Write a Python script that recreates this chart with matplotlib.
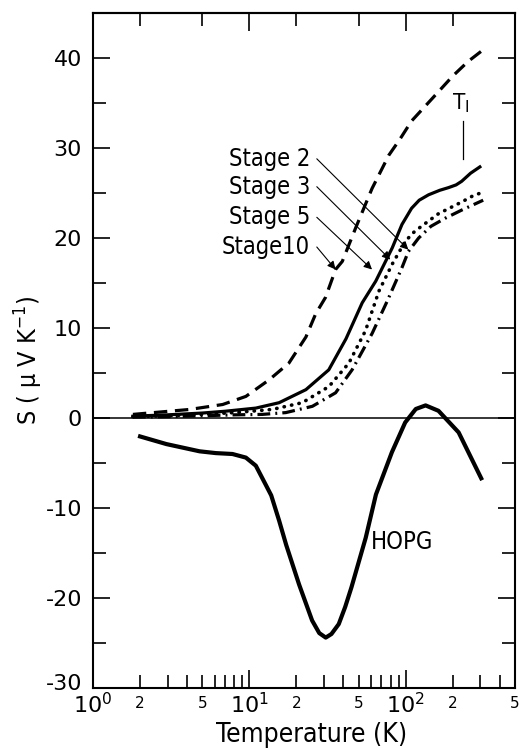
import numpy as np
import matplotlib
matplotlib.use("Agg")
import matplotlib.pyplot as plt
import matplotlib.transforms as mtransforms
from matplotlib.ticker import FixedLocator, NullFormatter, FixedFormatter

plt.rcParams['font.family'] = ['DejaVu Sans']
plt.rcParams['axes.unicode_minus'] = False
plt.rcParams['mathtext.default'] = 'regular'

# data (T in K, S in uV/K)
t_st10 = [1.8, 4.15, 6.75, 9.5, 13.4, 17.9, 23.0, 26.6, 30.7, 35.6, 39.3, 47.8, 60.9, 78, 92, 109, 146, 200, 250, 323]
s_st10 = [0.4, 0.95, 1.5, 2.4, 4.25, 6.1, 9.0, 11.6, 13.4, 16.5, 17.4, 21.1, 25.5, 29.2, 31.0, 33.0, 35.4, 38.0, 39.6, 41.1]

t_st5 = [1.8, 3, 5, 7, 11.0, 15.5, 23.0, 32.2, 41.5, 52.7, 64.3, 82, 94.6, 109, 122, 140, 165, 188, 210, 228, 260, 298]
s_st5 = [0.2, 0.35, 0.55, 0.75, 1.1, 1.7, 3.15, 5.35, 8.8, 12.8, 15.2, 18.9, 21.5, 23.3, 24.2, 24.8, 25.3, 25.6, 25.9, 26.3, 27.2, 27.9]

t_st3 = [1.8, 3, 5, 8, 14.0, 21.8, 32.3, 43.3, 55.3, 67.4, 82, 99, 112, 126, 162, 228, 270, 313]
s_st3 = [0.15, 0.25, 0.4, 0.6, 0.95, 1.7, 3.5, 6.1, 9.7, 14.1, 17.1, 19.6, 20.6, 21.3, 22.7, 24.0, 24.7, 25.1]

t_st2 = [1.8, 3, 5, 8, 12.1, 17.1, 25.3, 35.6, 45.4, 61.0, 76.2, 94.6, 104, 121, 145, 179, 228, 313]
s_st2 = [0.1, 0.15, 0.25, 0.35, 0.4, 0.6, 1.3, 2.8, 5.35, 9.4, 13.0, 16.7, 18.5, 20.0, 21.3, 22.2, 23.1, 24.2]

t_hopg = [2.0, 2.95, 4.8, 6.1, 7.8, 9.5, 11.0, 12.8, 13.8, 15.5, 17.2, 20.8, 25.2, 28.0, 30.8, 33.5, 37.3, 41, 45, 55.5,
          64.5, 81.6, 99.2, 116, 134, 162, 218, 304]
s_hopg = [-2.05, -2.9, -3.7, -3.9, -4.0, -4.4, -5.3, -7.5, -8.6, -11.4, -14.1, -18.5, -22.5, -23.9, -24.4, -24.0, -22.9, -21.0,
          -18.8, -13.3, -8.5, -3.8, -0.5, 1.0, 1.4, 0.8, -1.6, -6.7]

stage_names = ["Stage 2", "Stage 3", "Stage 5", "Stage10"]
label_s = [28.8, 25.7, 22.3, 19.0]
arrow_tip_t = [104, 79.7, 60.9, 35.6]
arrow_tip_s = [18.7, 17.6, 16.5, 16.5]

fig = plt.figure(figsize=(5.21, 7.5), dpi=100)
ax = fig.add_axes([93/521, 1-688/750, 422/521, 675/750])

ax.axhline(0, color='black', lw=1.1)

ax.plot(t_st10, s_st10, color='black', lw=2.3, ls=(0, (4.2, 2.4)))
ax.plot(t_st5, s_st5, color='black', lw=2.3)
ax.plot(t_st3, s_st3, color='black', lw=2.6, ls=(0, (0.1, 2.0)), dash_capstyle='round')
ax.plot(t_st2, s_st2, color='black', lw=2.3, ls=(0, (4.0, 1.6, 0.6, 1.6)))
ax.plot(t_hopg, s_hopg, color='black', lw=3.0)

ax.set_xscale('log')
ax.set_xlim(1, 500)
ax.set_ylim(-30, 45)

for sp in ax.spines.values():
    sp.set_linewidth(1.5)

# y ticks
ax.yaxis.set_major_locator(FixedLocator([-30, -20, -10, 0, 10, 20, 30, 40]))
ax.yaxis.set_minor_locator(FixedLocator([-25, -15, -5, 5, 15, 25, 35]))
ax.set_yticklabels(["-30", "-20", "-10", "0", "10", "20", "30", "40"])
ax.tick_params(axis='y', which='major', direction='in', length=12, width=1.2,
               left=True, right=True, labelsize=16, pad=8)
ax.tick_params(axis='y', which='minor', direction='in', length=9.5, width=1.2,
               left=True, right=True)
# lift the bottom label a little, as in the original it sits just above 10^0
lab30 = ax.get_yticklabels()[0]
lab30.set_transform(lab30.get_transform() +
                    mtransforms.ScaledTranslation(0, 4/72, fig.dpi_scale_trans))

# x ticks bottom
major_x = [1, 10, 100]
minor_x = [m * d for d in [1, 10, 100] for m in range(2, 10) if m * d < 500]
ax.xaxis.set_major_locator(FixedLocator(major_x))
ax.xaxis.set_minor_locator(FixedLocator(minor_x))
ax.xaxis.set_major_formatter(FixedFormatter([r"$10^0$", r"$10^1$", r"$10^2$"]))
ax.xaxis.set_minor_formatter(NullFormatter())
ax.tick_params(axis='x', which='major', direction='in', length=13, width=1.2,
               labelsize=16, pad=3, top=False)
ax.tick_params(axis='x', which='minor', direction='in', length=9.5, width=1.2, top=False)

small_x = [2, 5, 20, 50, 200, 500]
for v in small_x:
    ax.text(v, -30.9, str(v)[0], ha='center', va='top', fontsize=11)

# x ticks top
sec = ax.secondary_xaxis('top')
sec.xaxis.set_major_locator(FixedLocator(major_x))
sec.xaxis.set_minor_locator(FixedLocator([2, 5, 20, 50, 200]))
sec.xaxis.set_major_formatter(NullFormatter())
sec.xaxis.set_minor_formatter(NullFormatter())
sec.tick_params(which='major', direction='in', length=13, width=1.2)
sec.tick_params(which='minor', direction='in', length=9.5, width=1.2)
sec.spines['top'].set_linewidth(1.5)

ax.set_xlabel("Temperature (K)", fontsize=19, fontstretch='condensed')
ax.xaxis.set_label_coords(0.517, -0.05)
ax.set_ylabel(r"S ( $\mu$ V K$^{-1}$)", fontsize=18, fontstretch='condensed')
ax.yaxis.set_label_coords(-0.113, 0.485)

for name, s, tt, ts in zip(stage_names, label_s, arrow_tip_t, arrow_tip_s):
    ax.text(24.5, s, name, ha='right', va='center', fontsize=17, stretch='condensed')
    ax.annotate("", xy=(tt, ts), xytext=(27.0, s),
                arrowprops=dict(arrowstyle='-|>', color='black', lw=0.8,
                                mutation_scale=12, shrinkA=0, shrinkB=0))

ax.text(59.7, -13.8, "HOPG", ha='left', va='center', fontsize=17, stretch='condensed')
ax.text(224, 35, r"T$_{\rm I}$", ha='center', va='center', fontsize=16, stretch='condensed')
ax.plot([234, 234], [28.8, 33.0], color='black', lw=0.9)

fig.savefig("out.png", dpi=100)
